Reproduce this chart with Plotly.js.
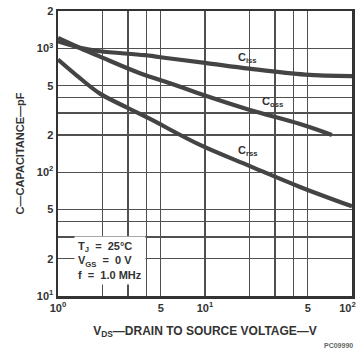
<!DOCTYPE html>
<html>
<head>
<meta charset="utf-8">
<script src="https://cdn.plot.ly/plotly-3.0.1.min.js"></script>
<style>html,body{margin:0;padding:0;background:#fff;}#chart{width:356px;height:353px;}</style>
</head>
<body>
<div id="chart"></div>
<script>
// Drain-source voltage (V) and capacitances (pF)
const cissV = [1, 1.41, 1.93, 3.9, 5.8, 10, 20, 48, 100];
const cissC = [1140, 1012, 948, 881, 828, 764, 686, 614, 597];
const cossV = [1, 1.41, 1.93, 3.61, 5.78, 10, 20.2, 44.3, 73];
const cossC = [1213, 1007, 858, 630, 524, 416, 318, 245, 200];
const crssV = [1, 1.41, 1.93, 2.99, 4.23, 9.25, 20.2, 44.3, 100];
const crssC = [813, 575, 431, 330, 269, 166, 112, 76, 53];

const xGrid = [1, 2, 3, 4, 5, 10, 20, 30, 40, 50, 100];
const xTickText = ['10<sup>0</sup>', '', '', '', '5', '10<sup>1</sup>', '', '', '', '5', '10<sup>2</sup>\u00A0\u00A0\u00A0'];
const yGrid = [10, 20, 30, 40, 50, 100, 200, 300, 400, 500, 1000, 2000];
const yTickText = ['10<sup>1</sup>', '2', '', '', '5', '10<sup>2</sup>', '2', '', '', '5', '10<sup>3</sup>', '2'];

const curveLabels = [
  {text: 'C<sub>iss</sub>', v: 19.6, c: 832},
  {text: 'C<sub>oss</sub>', v: 29, c: 368},
  {text: 'C<sub>rss</sub>', v: 19.6, c: 147}
];
const condText = 'T<sub>J</sub>  =  25°C<br>V<sub>GS</sub>  =  0 V<br>f  =  1.0 MHz';

const lineStyle = {color: '#444', width: 4.2, shape: 'spline', smoothing: 1};
const traces = [
  {x: cissV, y: cissC, mode: 'lines', line: lineStyle, hoverinfo: 'skip'},
  {x: cossV, y: cossC, mode: 'lines', line: lineStyle, hoverinfo: 'skip'},
  {x: crssV, y: crssC, mode: 'lines', line: lineStyle, hoverinfo: 'skip'}
];

const font = {family: 'Arial, "Liberation Sans", Helvetica, sans-serif', color: '#333', size: 11, weight: 'bold'};

const annotations = curveLabels.map(l => ({
  x: Math.log10(l.v), y: Math.log10(l.c), xref: 'x', yref: 'y',
  text: l.text, showarrow: false, font: Object.assign({}, font, {size: 11})
}));
annotations.push({
  x: Math.log10(1.28), y: Math.log10(19.2), xref: 'x', yref: 'y', xanchor: 'left', yanchor: 'middle',
  text: condText, align: 'left', showarrow: false, bgcolor: '#fff', borderpad: 3,
  font: Object.assign({}, font, {size: 11})
});
annotations.push({
  x: 1, y: 0, xref: 'paper', yref: 'paper', xanchor: 'right', yanchor: 'top', yshift: -44, xshift: 3,
  text: 'PC09990', showarrow: false, font: {family: 'Arial, sans-serif', size: 7, color: '#666'}
});

const layout = {
  width: 356, height: 353,
  margin: {l: 58, r: 4, t: 11, b: 57},
  paper_bgcolor: '#fff', plot_bgcolor: '#fff',
  showlegend: false,
  font: font,
  xaxis: {
    type: 'log', range: [0, 2],
    tickmode: 'array', tickvals: xGrid, ticktext: xTickText,
    ticklabeloverflow: 'allow',
    showgrid: true, gridcolor: '#505050', gridwidth: 1.3,
    showline: true, linecolor: '#333', linewidth: 2.5, mirror: true,
    ticks: '', ticklen: 0, zeroline: false,
    tickfont: Object.assign({}, font, {size: 11}),
    title: {text: 'V<sub>DS</sub>—DRAIN TO SOURCE VOLTAGE—V', font: Object.assign({}, font, {size: 12}), standoff: 14}
  },
  yaxis: {
    type: 'log', range: [1, 3.302],
    tickmode: 'array', tickvals: yGrid, ticktext: yTickText,
    ticklabeloverflow: 'allow',
    showgrid: true, gridcolor: '#505050', gridwidth: 1.3,
    showline: true, linecolor: '#333', linewidth: 2.5, mirror: true,
    ticks: '', ticklen: 0, zeroline: false,
    tickfont: Object.assign({}, font, {size: 11}),
    title: {text: 'C—CAPACITANCE—pF', font: Object.assign({}, font, {size: 11}), standoff: 10}
  },
  annotations: annotations
};

Plotly.newPlot('chart', traces, layout, {staticPlot: true, displayModeBar: false});
</script>
</body>
</html>
